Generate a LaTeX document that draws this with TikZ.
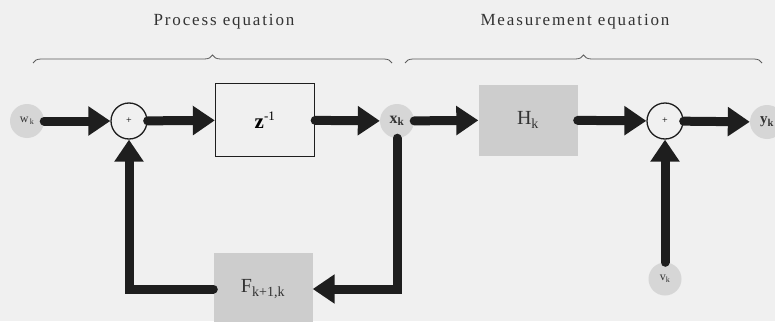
\documentclass[tikz,border=0pt]{standalone}
\usepackage{fontspec}
\setmainfont{Liberation Serif}
\usetikzlibrary{arrows.meta,decorations.pathreplacing,calc}
\definecolor{bgc}{HTML}{F0F0F0}
\definecolor{linec}{HTML}{1E1E1E}
\definecolor{circc}{HTML}{D6D6D6}
\definecolor{boxc}{HTML}{CDCDCD}
\definecolor{txtc}{HTML}{333333}
\newfontfamily\spacedfont[LetterSpace=11]{Liberation Serif}
\begin{document}
\begin{tikzpicture}[x=1pt,y=-1pt,
  sig/.style={circle,fill=circc,minimum size=34pt,inner sep=0pt,text=txtc},
  sumnode/.style={circle,draw=linec,line width=1.3pt,fill=bgc,minimum size=36pt,inner sep=0pt,font=\fontsize{10}{10}\selectfont},
  greybox/.style={rectangle,fill=boxc,minimum width=99pt,minimum height=71pt,inner sep=0pt,text=txtc,font=\fontsize{20}{22}\selectfont},
  whitebox/.style={rectangle,draw=linec,line width=1.3pt,fill=bgc,minimum width=99pt,minimum height=73pt,inner sep=0pt,font=\fontsize{21}{22}\selectfont},
  flow/.style={draw=linec,line width=9pt,line cap=round,-{Triangle[length=22pt,width=28pt]}},
  bracec/.style={draw=txtc!80,line width=0.8pt,decorate,decoration={brace,amplitude=8pt}},
  eqlabel/.style={text=txtc,font=\spacedfont\fontsize{17}{19}\selectfont}
]
\useasboundingbox[fill=bgc] (0,0) rectangle (775,321);

\node[sig,font=\fontsize{12}{13}\selectfont] (w) at (27,121) {w\textsubscript{\,k}};
\node[sumnode] (s1) at (129,121) {+};
\node[whitebox] (z) at (265,120) {\textbf{z}\textsuperscript{\fontsize{13}{13}\selectfont -1}};
\node[sig,font=\fontsize{16}{17}\selectfont\bfseries] (x) at (397,121) {x\textsubscript{k}};
\node[greybox] (H) at (528,120) {H\textsubscript{k}};
\node[sumnode] (s2) at (665,121) {+};
\node[sig,font=\fontsize{15}{16}\selectfont\bfseries] (y) at (767,122) {y\textsubscript{k}};
\node[sig,minimum size=33pt,font=\fontsize{12}{13}\selectfont] (v) at (665,279) {v\textsubscript{k}};
\node[greybox,minimum height=72pt] (F) at (263,289) {F\textsubscript{k+1,k}};

\draw[flow] (w) -- (s1);
\draw[flow] (s1) -- (z);
\draw[flow] (z) -- (x);
\draw[flow] (x) -- (H);
\draw[flow] (H) -- (s2);
\draw[flow] (s2) -- (y);
\draw[flow] (v) -- (s2);
\draw[flow,line join=miter] (x.south) -- (x |- F) -- (F.east);
\draw[flow,line join=miter] (F.west) -- (s1 |- F) -- (s1.south);

\coordinate (pb1) at (33,63);
\coordinate (pb2) at (392,63);
\coordinate (mb1) at (405,63);
\coordinate (mb2) at (762,63);
\draw[bracec] (pb1) -- (pb2);
\draw[bracec] (mb1) -- (mb2);
\node[eqlabel] (pl) at (224,22) {Process equation};
\node[eqlabel] (ml) at (575,22) {Measurement equation};
\end{tikzpicture}
\end{document}
